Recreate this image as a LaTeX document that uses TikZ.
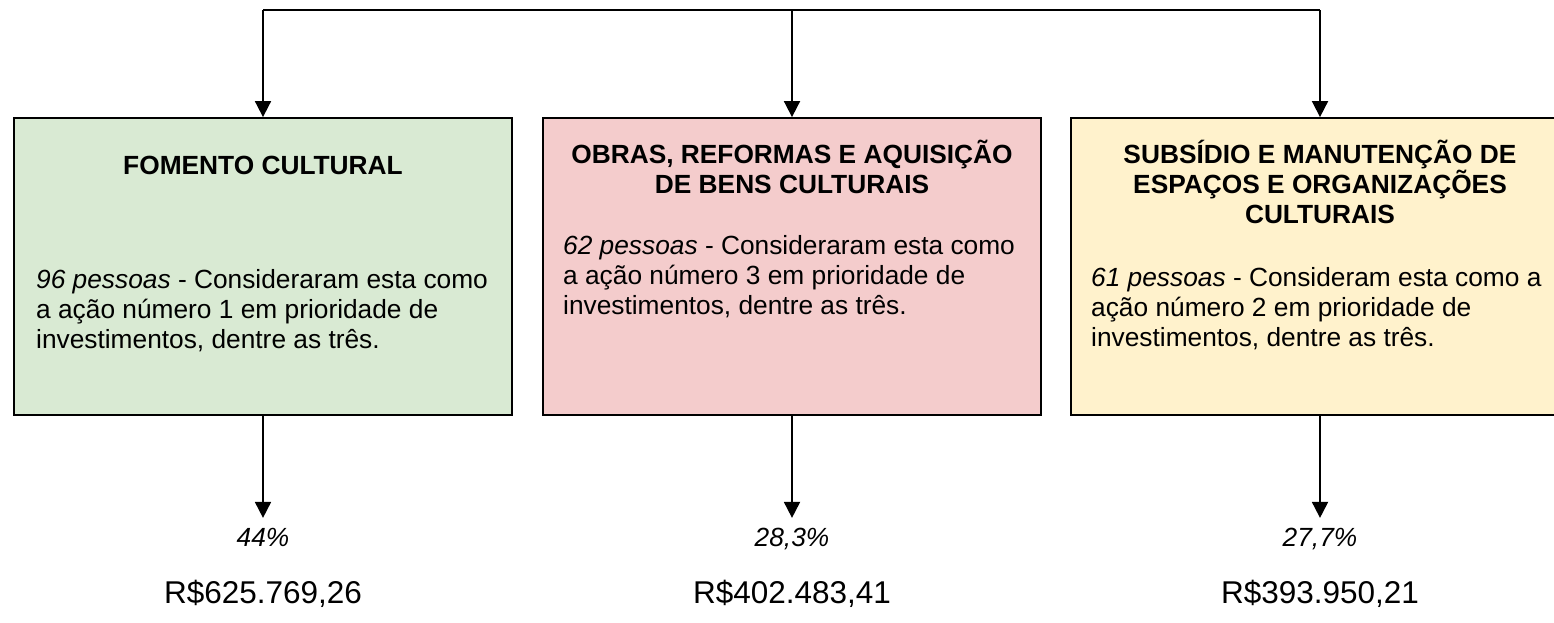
\documentclass[tikz,border=0pt]{standalone}
\usepackage{fontspec}
\setmainfont{Liberation Sans}
\usetikzlibrary{arrows.meta,positioning}

\definecolor{verde}{HTML}{D9EAD3}
\definecolor{rosa}{HTML}{F4CCCC}
\definecolor{amarelo}{HTML}{FFF2CC}

\tikzset{
    caixa/.style={draw,line width=1.8pt,minimum width=498pt,minimum height=297pt,inner sep=0pt},
    titulo/.style={font=\bfseries\fontsize{26.3}{30}\selectfont,align=center,anchor=base,inner sep=0pt},
    corpo/.style={font=\fontsize{26.3}{29.7}\selectfont,align=left,anchor=base west,inner sep=0pt},
    pct/.style={font=\itshape\fontsize{26.3}{30}\selectfont,anchor=base,inner sep=0pt},
    valor/.style={font=\fontsize{31.5}{36}\selectfont,anchor=base,inner sep=0pt},
    seta/.style={line width=1.8pt,-{Triangle[width=16pt,length=16pt]}}
}

\begin{document}
\begin{tikzpicture}[x=1pt,y=-1pt]
            \useasboundingbox (0,0) rectangle (1554,622);
            % caixas
            \node[caixa,fill=verde] (fomento) at (263,266.5) {};
            \node[caixa,fill=rosa] (obras) at (792,266.5) {};
            \node[caixa,fill=amarelo] (subsidio) at (1320,266.5) {};
            % ligacoes de cima
            \coordinate (c1) at (263,10);
            \coordinate (c2) at (792,10);
            \coordinate (c3) at (1320,10);
            \draw[line width=1.8pt] (c1) -- (c3);
            \draw[seta] (c1) -- (fomento.north);
            \draw[seta] (c2) -- (obras.north);
            \draw[seta] (c3) -- (subsidio.north);
            % textos (base = ultima linha)
            \node[titulo] (t1) at (263,174) {FOMENTO CULTURAL};
            \node[corpo] (d1) at (36,348) {\textit{96 pessoas} - Consideraram esta como\\a ação número 1 em prioridade de\\investimentos, dentre as três.};
            \node[titulo] (t2) at (792,193) {OBRAS, REFORMAS E AQUISIÇÃO\\DE BENS CULTURAIS};
            \node[corpo] (d2) at (563,314) {\textit{62 pessoas} - Consideraram esta como\\a ação número 3 em prioridade de\\investimentos, dentre as três.};
            \node[titulo] (t3) at (1320,223) {SUBSÍDIO E MANUTENÇÃO DE\\ESPAÇOS E ORGANIZAÇÕES\\CULTURAIS};
            \node[corpo] (d3) at (1091,346) {\textit{61 pessoas} - Consideram esta como a\\ação número 2 em prioridade de\\investimentos, dentre as três.};
            % resultados
            \node[pct] (p1) at (263,546) {44\%};
            \node[pct] (p2) at (792,546) {28,3\%};
            \node[pct] (p3) at (1320,546) {27,7\%};
            \node[valor] (v1) at (263,603) {R\$625.769,26};
            \node[valor] (v2) at (792,603) {R\$402.483,41};
            \node[valor] (v3) at (1320,603) {R\$393.950,21};
            \draw[seta] (fomento.south) -- ++(0,102);
            \draw[seta] (obras.south) -- ++(0,102);
            \draw[seta] (subsidio.south) -- ++(0,102);
        \end{tikzpicture}
\end{document}
